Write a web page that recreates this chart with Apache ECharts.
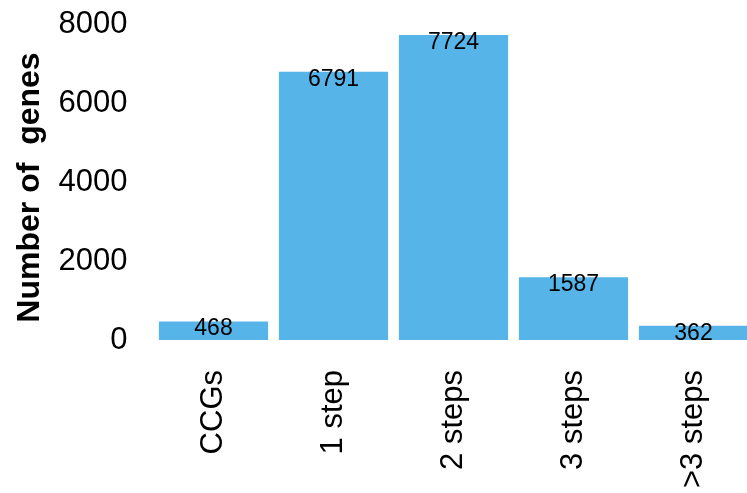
<!DOCTYPE html>
<html>
<head>
<meta charset="utf-8">
<script src="https://cdn.jsdelivr.net/npm/echarts@6/dist/echarts.min.js"></script>
<style>html,body{margin:0;padding:0;background:#fff}#c{width:747px;height:493px}</style>
</head>
<body>
<div id="c"></div>
<script>
const categories = ['CCGs', '1 step', '2 steps', '3 steps', '>3 steps'];
const geneCounts = [468, 6791, 7724, 1587, 362];
const yTicks = [0, 2000, 4000, 6000, 8000];

const chart = echarts.init(document.getElementById('c'), null, {renderer: 'canvas'});
const font = 'Liberation Sans';
chart.setOption({
  animation: false,
  grid: {left: 153.5, width: 600, top: 24, height: 316, containLabel: false, outerBoundsMode: 'none'},
  xAxis: {
    type: 'category',
    data: categories,
    axisLine: {show: false},
    axisTick: {show: false},
    axisLabel: {rotate: 90, fontSize: 31, color: '#000', fontFamily: font, margin: 30}
  },
  yAxis: {
    type: 'value',
    min: yTicks[0],
    max: yTicks[yTicks.length - 1],
    interval: 2000,
    name: 'Number of  genes',
    nameLocation: 'middle',
    nameGap: 107,
    nameTextStyle: {fontSize: 32, fontWeight: 'bold', color: '#000', fontFamily: font, padding: [0, 11, 0, 0]},
    axisLine: {show: false},
    axisTick: {show: false},
    splitLine: {show: false},
    axisLabel: {fontSize: 31, color: '#000', fontFamily: font, margin: 26, formatter: v => String(v)}
  },
  series: [{
    type: 'bar',
    data: geneCounts,
    barCategoryGap: '9%',
    itemStyle: {color: '#56B4E9'},
    label: {
      show: true,
      position: 'insideTop',
      distance: -4,
      fontSize: 23,
      color: '#000',
      fontFamily: font
    }
  }]
});
</script>
</body>
</html>
